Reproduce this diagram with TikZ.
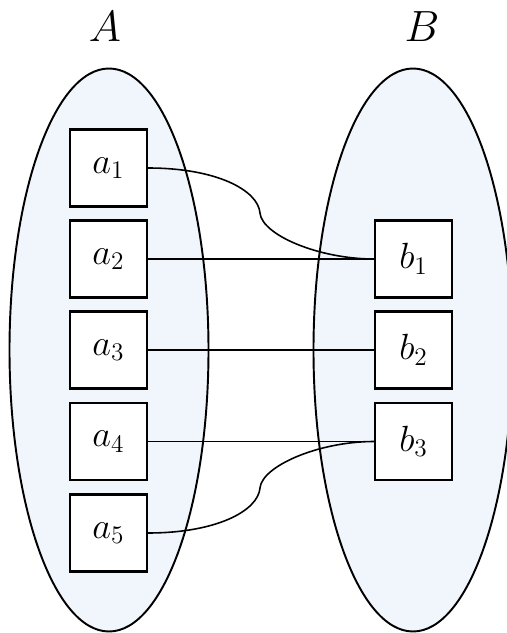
\documentclass[tikz,border=0pt]{standalone}
\usepackage{tikz}
\usepackage{amsmath}
\usepackage{xcolor}
\definecolor{setfill}{RGB}{241,246,252}

\begin{document}
\begin{tikzpicture}[x=1cm,y=1cm,
  elem/.style={draw,line width=1.3pt,fill=white,minimum size=1.54cm,inner sep=0pt,font=\fontsize{21}{25}\selectfont},
  link/.style={line width=0.9pt}]
\useasboundingbox (0,0) rectangle (10.14,12.66);
\draw[fill=setfill,line width=1.1pt] (2.18,5.66) ellipse [x radius=1.99,y radius=5.63];
\draw[fill=setfill,line width=1.1pt] (8.26,5.66) ellipse [x radius=1.99,y radius=5.63];
\node[font=\fontsize{27}{30}\selectfont] (setA) at (2.1,12.12) {$A$};
\node[font=\fontsize{27}{30}\selectfont] (setB) at (8.44,12.12) {$B$};
\node[elem] (a1) at (2.17,9.3) {$a_1$};
\node[elem] (a2) at (2.17,7.48) {$a_2$};
\node[elem] (a3) at (2.17,5.66) {$a_3$};
\node[elem] (a4) at (2.17,3.83) {$a_4$};
\node[elem] (a5) at (2.17,2.0) {$a_5$};
\node[elem] (b1) at (8.27,7.48) {$b_1$};
\node[elem] (b2) at (8.27,5.66) {$b_2$};
\node[elem] (b3) at (8.27,3.83) {$b_3$};
\coordinate (k1) at (5.2,8.4);
\coordinate (k2) at (5.2,2.9);
\draw[link] (a1.east) .. controls +(1.36,0) and +(-0.04,0.46) .. (k1) .. controls +(0.04,-0.44) and +(-1.1,0) .. (b1.west);
\draw[link] (a2) -- (b1);
\draw[link] (a3) -- (b2);
\draw[link] (a4) -- (b3);
\draw[link] (a5.east) .. controls +(1.36,0) and +(-0.04,-0.46) .. (k2) .. controls +(0.04,0.44) and +(-1.1,0) .. (b3.west);
\end{tikzpicture}
\end{document}
